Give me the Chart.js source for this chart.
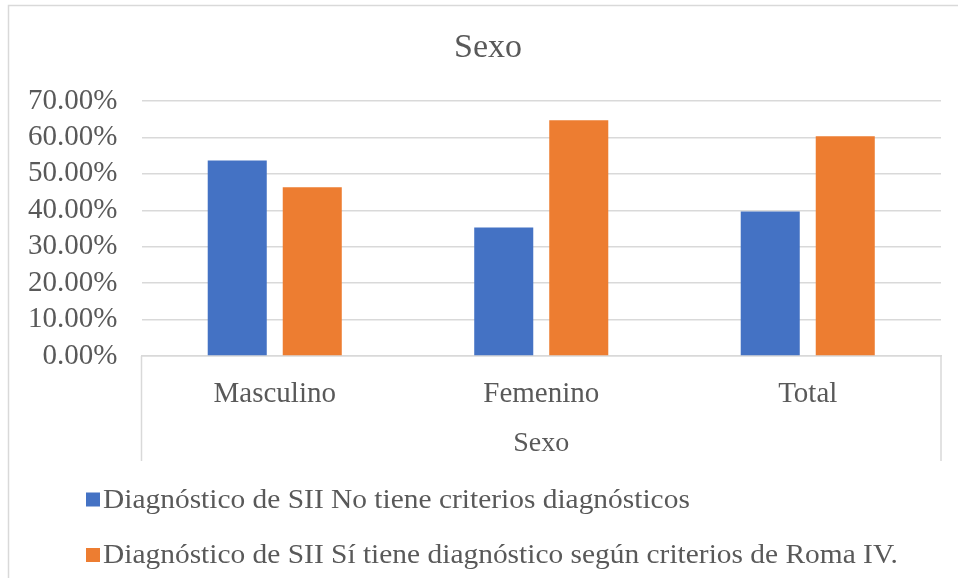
<!DOCTYPE html>
<html>
<head>
<meta charset="utf-8">
<script src="https://cdn.jsdelivr.net/npm/chart.js@4.4.0/dist/chart.umd.min.js"></script>
<style>
  html, body { margin: 0; padding: 0; background: #fff; }
  #wrap { width: 958px; height: 578px; position: relative; }
</style>
</head>
<body>
<div id="wrap"><canvas id="bar-chart"></canvas></div>
<script>
  const categories = ['Masculino', 'Femenino', 'Total'];
  const noCriteria = [53.7, 35.3, 39.7];
  const romaIV = [46.3, 64.7, 60.3];
  const seriesLabels = [
    'Diagnóstico de SII No tiene criterios diagnósticos',
    'Diagnóstico de SII Sí tiene diagnóstico según criterios de Roma IV.'
  ];
  const yMax = 70;
  const yStep = 10;

  const serif = '"Liberation Serif", "Times New Roman", serif';
  const textGray = '#595959';
  const lineGray = '#d9d9d9';

  // frame, category box and the stacked legend (Excel style)
  const excelDecor = {
    id: 'excelDecor',
    afterLayout(chart) {
      // the original frame is cut on the right, so its title sits a bit right of centre
      chart.titleBlock.left += 23;
    },
    afterDraw(chart) {
      const { ctx, chartArea } = chart;
      ctx.save();
      ctx.strokeStyle = lineGray;
      ctx.lineWidth = 1.5;
      ctx.beginPath();
      ctx.moveTo(8.5, 578);
      ctx.lineTo(8.5, 5.5);
      ctx.lineTo(958, 5.5);
      ctx.moveTo(chartArea.left, chartArea.bottom);
      ctx.lineTo(chartArea.left, 461);
      ctx.moveTo(chartArea.right, chartArea.bottom);
      ctx.lineTo(chartArea.right, 461);
      ctx.stroke();

      ctx.font = '27px ' + serif;
      ctx.textBaseline = 'middle';
      ctx.textAlign = 'left';
      chart.data.datasets.forEach((ds, i) => {
        const y = 499.5 + i * 55.5;
        ctx.fillStyle = ds.backgroundColor;
        ctx.fillRect(86, y - 7, 14, 14);
        ctx.fillStyle = textGray;
        ctx.save();
        ctx.translate(103, y + 1);
        ctx.scale(1.09, 1);
        ctx.fillText(ds.label, 0, 0);
        ctx.restore();
      });
      ctx.restore();
    }
  };

  new Chart(document.getElementById('bar-chart'), {
    type: 'bar',
    data: {
      labels: categories,
      datasets: [{
        label: seriesLabels[0],
        data: noCriteria,
        backgroundColor: '#4472C4',
        categoryPercentage: 0.563,
        barPercentage: 0.787
      }, {
        label: seriesLabels[1],
        data: romaIV,
        backgroundColor: '#ED7D31',
        categoryPercentage: 0.563,
        barPercentage: 0.787
      }]
    },
    options: {
      responsive: true,
      maintainAspectRatio: false,
      animation: false,
      layout: { padding: { left: 12, right: 17, top: 0, bottom: 108 } },
      plugins: {
        legend: { display: false },
        tooltip: { enabled: false },
        title: {
          display: true,
          text: 'Sexo',
          color: textGray,
          font: { family: serif, size: 34, weight: 'normal', lineHeight: 1.2 },
          padding: { top: 27.6, bottom: 32.6 }
        }
      },
      scales: {
        y: {
          min: 0,
          max: yMax,
          afterFit(scale) { scale.width = 129.5; },
          ticks: {
            stepSize: yStep,
            autoSkip: false,
            padding: 24,
            color: textGray,
            font: { family: serif, size: 29 },
            callback: v => v.toFixed(2) + '%'
          },
          grid: { color: lineGray, lineWidth: 1.5, drawTicks: false },
          border: { display: false }
        },
        x: {
          afterFit(scale) { scale.height = 114; },
          ticks: {
            padding: 21,
            color: textGray,
            font: { family: serif, size: 29 }
          },
          grid: { display: false, drawTicks: false },
          border: { display: true, color: lineGray, width: 1.5 },
          title: {
            display: true,
            text: 'Sexo',
            color: textGray,
            font: { family: serif, size: 28, lineHeight: 1.2 },
            padding: { top: 0, bottom: 9.2 }
          }
        }
      }
    },
    plugins: [excelDecor]
  });
</script>
</body>
</html>
